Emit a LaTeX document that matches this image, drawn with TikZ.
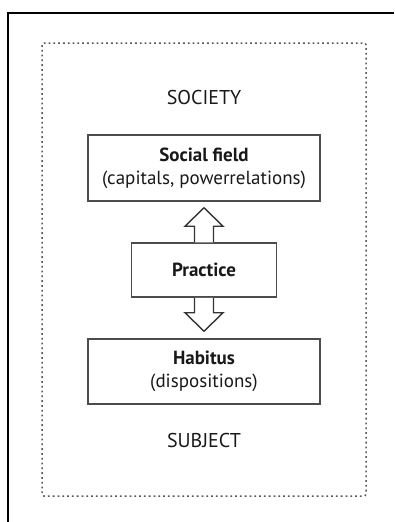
\documentclass[tikz,border=0pt]{standalone}
\usepackage{fontspec}
\setmainfont{PT Sans}
\usetikzlibrary{calc}
\tikzset{
    boxnode/.style={draw=black!70,line width=1.5pt,text=black!90,align=center,inner sep=0pt},
    fatarrow/.style={draw=black!80,line width=1.4pt,line join=miter,fill=white},
    labeltext/.style={text=black!90,font=\fontsize{20}{24}\selectfont}
}
\begin{document}
\begin{tikzpicture}[x=1pt,y=-1pt]
            \useasboundingbox (0,0) rectangle (394,522);
            % Draw frame (top and left)
            \draw[line width=2pt,black] (394,13) -- (8,13) -- (8,522);
            % Draw dotted border
            \draw[black!65,line width=1.5pt,dash pattern=on 1.8pt off 3pt,rounded corners=2pt] (42,43) rectangle (366,496);
            % Labels
            \node[labeltext] (society) at (204,97) {SOCIETY};
            \node[labeltext] (subject) at (204,440) {SUBJECT};
            % Boxes
            \node[boxnode,minimum width=232pt,minimum height=66pt,font=\fontsize{19}{23}\selectfont] (field) at (204,168)
                {\textbf{Social field}\\(capitals, powerrelations)};
            \node[boxnode,minimum width=145pt,minimum height=54pt,font=\fontsize{19}{23}\selectfont] (practice) at (204,270)
                {\textbf{Practice}};
            \node[boxnode,minimum width=232pt,minimum height=65pt,font=\fontsize{19}{22.5}\selectfont] (habitus) at (204,371.5)
                {\textbf{Habitus}\\(dispositions)};
            % Up arrow
            \draw[fatarrow] ($(practice.north)+(-9.5,0)$) -- ++(0,-16) -- ++(-9.5,0)
                -- ($(field.south)+(0,6)$) -- ($(practice.north)+(19,-16)$) -- ++(-9.5,0) -- ++(0,16);
            % Down arrow
            \draw[fatarrow] ($(practice.south)+(-9.5,0)$) -- ++(0,15) -- ++(-9.5,0)
                -- ($(habitus.north)+(0,-7)$) -- ($(practice.south)+(19,15)$) -- ++(-9.5,0) -- ++(0,-15);
\end{tikzpicture}
\end{document}
